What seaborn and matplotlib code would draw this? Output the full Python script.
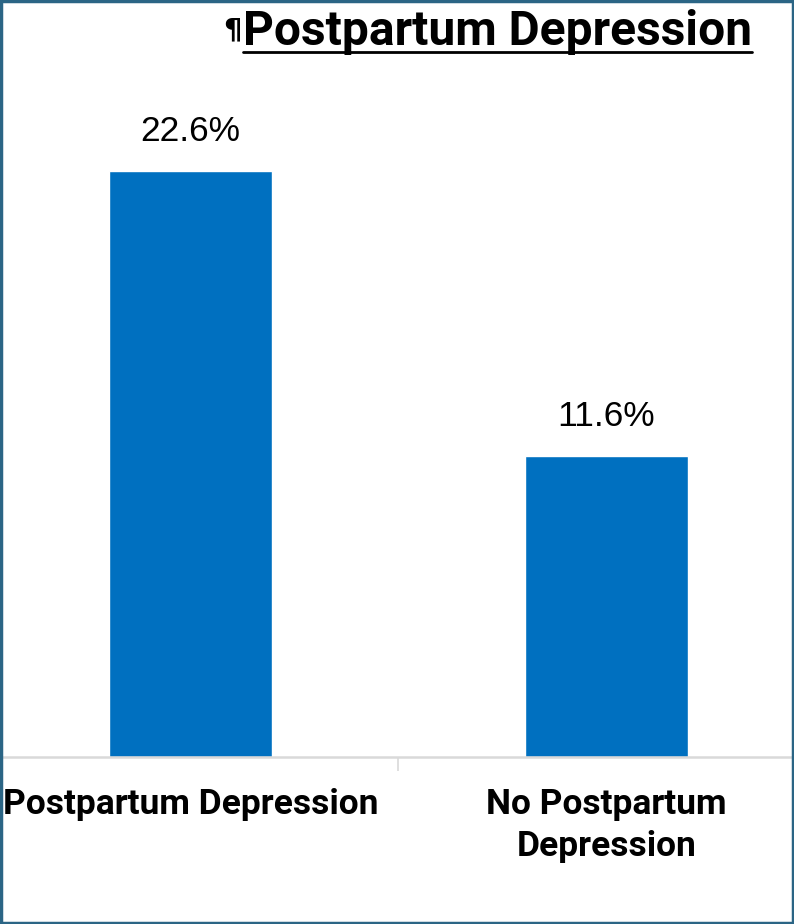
import matplotlib
matplotlib.use("Agg")
import matplotlib.pyplot as plt
from matplotlib.patches import Rectangle
from matplotlib.lines import Line2D
import seaborn as sns
import pandas as pd

groups = ["Postpartum Depression", "No Postpartum\nDepression"]
rates = [22.6, 11.6]
value_labels = ["22.6%", "11.6%"]

sns.set_theme(style="white")
plt.rcParams["font.family"] = ["Roboto", "DejaVu Sans"]

df = pd.DataFrame({"group": groups, "rate": rates})

fig = plt.figure(figsize=(7.94, 9.24), dpi=100)
ax = fig.add_axes([0.0, 1 - 757 / 924, 1.0, (757 - 109) / 924])

sns.barplot(data=df, x="group", y="rate", color="#0070C0", width=0.392,
            saturation=1, ax=ax)
ax.set_ylim(0, 25)
ax.set_xlim(-0.458, 1.451)

for p, lab in zip(ax.patches, value_labels):
    ax.annotate(lab, (p.get_x() + p.get_width() / 2, p.get_height()),
                xytext=(0, 17), textcoords="offset points",
                ha="center", va="bottom", fontsize=25.5,
                family=["Liberation Sans", "DejaVu Sans"], color="black")

for s in ["top", "right", "left"]:
    ax.spines[s].set_visible(False)
ax.spines["bottom"].set_color("#D9D9D9")
ax.spines["bottom"].set_linewidth(1.8)
ax.set_yticks([])
ax.set_xlabel("")
ax.set_ylabel("")
ax.tick_params(axis="x", which="major", length=0, pad=22)
for t in ax.get_xticklabels():
    t.set_fontsize(25.5)
    t.set_fontweight("bold")
    t.set_color("black")
    t.set_linespacing(1.38)
    t.set_verticalalignment("top")

# category separator tick
ax.set_xticks([0.5], minor=True)
ax.tick_params(axis="x", which="minor", bottom=True, length=10, width=1.2,
               color="#D9D9D9", direction="out", labelbottom=False)

# title with pilcrow and underline
title = fig.text(752 / 794, 1 - 45 / 924, "Postpartum Depression",
                 ha="right", va="baseline", fontsize=34.5, fontweight="bold",
                 color="black")
fig.canvas.draw()
bb = title.get_window_extent().transformed(fig.transFigure.inverted())
fig.text(bb.x0 - 1 / 794, 1 - 38 / 924, "¶", ha="right", va="baseline",
         fontsize=21, fontweight="bold", color="black",
         family=["DejaVu Sans"])
fig.add_artist(Line2D([bb.x0, bb.x1], [1 - 52 / 924, 1 - 52 / 924],
                      transform=fig.transFigure, color="black", linewidth=2))

# frame around the figure
fig.add_artist(Rectangle((0.001, 0.001), 0.998, 0.998, transform=fig.transFigure,
                         fill=False, edgecolor="#2B6585", linewidth=2.5))

fig.savefig("out.png", dpi=100, facecolor="white")
